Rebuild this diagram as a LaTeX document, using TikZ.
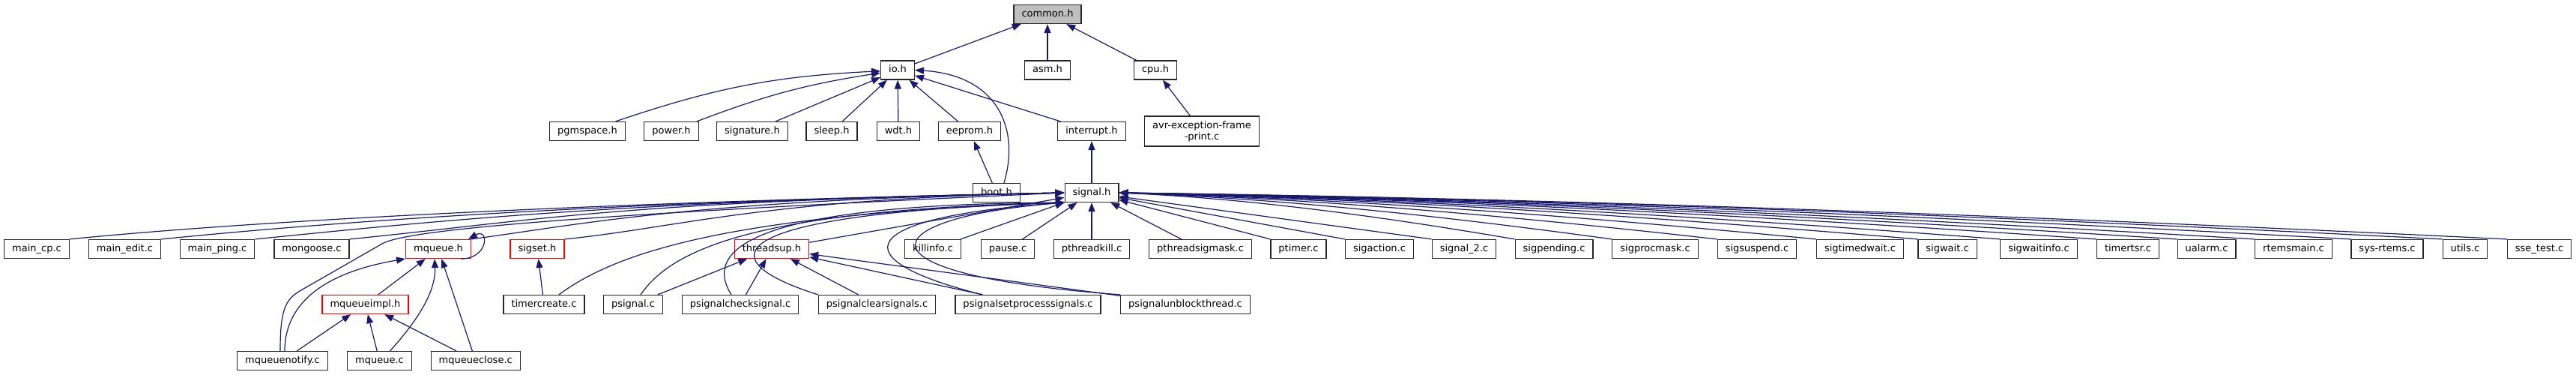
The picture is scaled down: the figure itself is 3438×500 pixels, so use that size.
\documentclass[tikz,border=0pt]{standalone}
\usepackage{fontspec}
\setmainfont{DejaVu Sans}
\usepackage{tikz}
\usetikzlibrary{arrows.meta}
\definecolor{edgeblue}{HTML}{191970}
\tikzstyle{frame}=[rectangle,draw=black!85,line width=1.2pt,fill=white,text=black,font=\fontsize{13pt}{15pt}\selectfont,inner xsep=10.5pt]
\tikzstyle{box}=[frame,minimum height=25pt,inner ysep=0pt,text height=10pt,text depth=3pt]
\tikzstyle{cut}=[box,draw=red]
\tikzstyle{inc}=[-{Triangle[length=12pt,width=9pt]},line width=1.2pt,draw=edgeblue]

\begin{document}
\begin{tikzpicture}[x=1pt,y=1pt]
  \useasboundingbox (0,0) rectangle (3438,-500);

  \node[box,fill=black!25] (common) at (1398,-19) {common.h};
  \node[box] (io) at (1198,-93.5) {io.h};
  \node[box] (asmh) at (1398,-93.5) {asm.h};
  \node[box] (cpu) at (1542,-93.5) {cpu.h};
  \node[box] (pgmspace) at (784,-175) {pgmspace.h};
  \node[box] (power) at (896,-175) {power.h};
  \node[box] (signature) at (1004,-175) {signature.h};
  \node[box] (sleep) at (1110,-175) {sleep.h};
  \node[box] (wdt) at (1199,-175) {wdt.h};
  \node[box] (eeprom) at (1294,-175) {eeprom.h};
  \node[box] (interrupt) at (1457,-175) {interrupt.h};
  \node[frame,align=center,minimum height=40pt,inner ysep=2pt] (avr) at (1604,-175) {avr-exception-frame\\-print.c};
  \node[box] (boot) at (1330,-257) {boot.h};
  \node[box] (signal) at (1457,-257) {signal.h};
  %
  \node[box] (maincp) at (49,-332) {main\_cp.c};
  \node[box] (mainedit) at (166.5,-332) {main\_edit.c};
  \node[box] (mainping) at (290,-332) {main\_ping.c};
  \node[box] (mongoose) at (416,-332) {mongoose.c};
  \node[cut] (mqueue) at (585,-332) {mqueue.h};
  \node[cut] (sigset) at (717,-332) {sigset.h};
  \node[cut] (threadsup) at (1030,-332) {threadsup.h};
  \node[box] (killinfo) at (1245,-332) {killinfo.c};
  \node[box] (pause) at (1345,-332) {pause.c};
  \node[box] (pthreadkill) at (1457,-332) {pthreadkill.c};
  \node[box] (pthreadsigmask) at (1602,-332) {pthreadsigmask.c};
  \node[box] (ptimer) at (1733,-332) {ptimer.c};
  \node[box] (sigaction) at (1841,-332) {sigaction.c};
  \node[box] (signaltwo) at (1954,-332) {signal\_2.c};
  \node[box] (sigpending) at (2074,-332) {sigpending.c};
  \node[box] (sigprocmask) at (2209,-332) {sigprocmask.c};
  \node[box] (sigsuspend) at (2345,-332) {sigsuspend.c};
  \node[box] (sigtimedwait) at (2482.5,-332) {sigtimedwait.c};
  \node[box] (sigwait) at (2599,-332) {sigwait.c};
  \node[box] (sigwaitinfo) at (2721,-332) {sigwaitinfo.c};
  \node[box] (timertsr) at (2840,-332) {timertsr.c};
  \node[box] (ualarm) at (2945,-332) {ualarm.c};
  \node[box] (rtemsmain) at (3061,-332) {rtemsmain.c};
  \node[box] (sysrtems) at (3186,-332) {sys-rtems.c};
  \node[box] (utils) at (3290,-332) {utils.c};
  \node[box] (ssetest) at (3389,-332) {sse\_test.c};
  %
  \node[cut] (mqimpl) at (487.5,-406) {mqueueimpl.h};
  \node[box] (timercreate) at (726,-406) {timercreate.c};
  \node[box] (psignal) at (845,-406) {psignal.c};
  \node[box] (pscheck) at (988,-406) {psignalchecksignal.c};
  \node[box] (psclear) at (1170.5,-406) {psignalclearsignals.c};
  \node[box] (psset) at (1372,-406) {psignalsetprocesssignals.c};
  \node[box] (psunblock) at (1582,-406) {psignalunblockthread.c};
  \node[box] (mqnotify) at (377,-481) {mqueuenotify.c};
  \node[box] (mqueuec) at (506.5,-481) {mqueue.c};
  \node[box] (mqclose) at (634.7,-481) {mqueueclose.c};

  \draw[inc] (io)--(common); \draw[inc] (asmh)--(common); \draw[inc] (cpu)--(common);
  \draw[inc] (avr)--(cpu);
  \draw[inc] (pgmspace)to[bend left=8](io); \draw[inc] (power)to[bend left=6](io);
  \foreach \n in {signature,sleep,wdt,eeprom,interrupt} \draw[inc] (\n)--(io);
  \draw[inc] (boot)--(eeprom);
  \draw[inc] ([xshift=-22pt]boot.north east) .. controls (1362,-170) and (1330,-100) .. (io.east);
  \draw[inc] (signal)--(interrupt);
  %
  \foreach \n in {maincp,mainedit,mainping,mongoose}
    \draw[inc] (\n.north east) .. controls +(250,25) and +(-600,-12) .. (signal.west);
  \draw[inc] (mqueue.north east) .. controls +(150,20) and +(-500,-10) .. (signal.west);
  \draw[inc] (sigset.north east) .. controls +(150,15) and +(-400,-8) .. (signal.west);
  \draw[inc] (threadsup)--(signal);
  \draw[inc] ([xshift=-3pt]mqnotify.north) .. controls (374,-415) and (380,-400) .. (400,-388) -- (510,-325) .. controls (545,-305) and (800,-285) .. (signal.west);
  \draw[inc] ([xshift=20pt]timercreate.north) .. controls (830,-330) and (1000,-285) .. (signal.200);
  \draw[inc] ([xshift=10pt]psignal.north) .. controls (895,-335) and (1000,-280) .. (signal.200);
  \draw[inc] ([xshift=-12pt]pscheck.north) .. controls (930,-320) and (1050,-272) .. (signal.200);
  \draw[inc] (psclear.north west) .. controls (940,-345) and (960,-285) .. (signal.200);
  \draw[inc] ([xshift=-61pt]psset.north) .. controls (1120,-345) and (1140,-290) .. (signal.200);
  \draw[inc] (psunblock.north west) .. controls (1120,-365) and (1170,-290) .. (signal.200);
  \foreach \n in {killinfo,pause,pthreadkill,pthreadsigmask} \draw[inc] (\n)--(signal);
  \foreach \n in {ptimer,sigaction,signaltwo} \draw[inc] (\n.north west)--(signal);
  \foreach \n/\d in {sigpending/528,sigprocmask/658,sigsuspend/798,sigtimedwait/929,sigwait/1071,sigwaitinfo/1174,timertsr/1304,ualarm/1412,rtemsmain/1515,sysrtems/1643,utils/1766,ssetest/1852}
    \draw[inc] (\n.north west) .. controls +({-\d/3},30) and +({\d/3},-8) .. (signal.east);
  %
  \foreach \n in {psignal,pscheck,psclear,psset,psunblock} \draw[inc] (\n)--(threadsup);
  \draw[inc] (timercreate)--(sigset);
  \draw[inc] (mqimpl)--(mqueue);
  \draw[inc] (mqnotify)--(mqimpl); \draw[inc] (mqueuec)--(mqimpl); \draw[inc] (mqclose)--(mqimpl);
  \draw[inc] ([xshift=3pt]mqnotify.north) .. controls (380,-400) and (440,-362) .. (mqueue.south west);
  \draw[inc] ([xshift=14pt]mqueuec.north) .. controls (555,-430) and (582,-390) .. ([xshift=-5pt]mqueue.south);
  \draw[inc] (mqclose)--(mqueue);
  \draw[inc] ([xshift=-14pt]mqueue.south east) .. controls +(38,0) and +(28,16) .. ([xshift=-4pt]mqueue.north east);

\end{tikzpicture}
\end{document}
